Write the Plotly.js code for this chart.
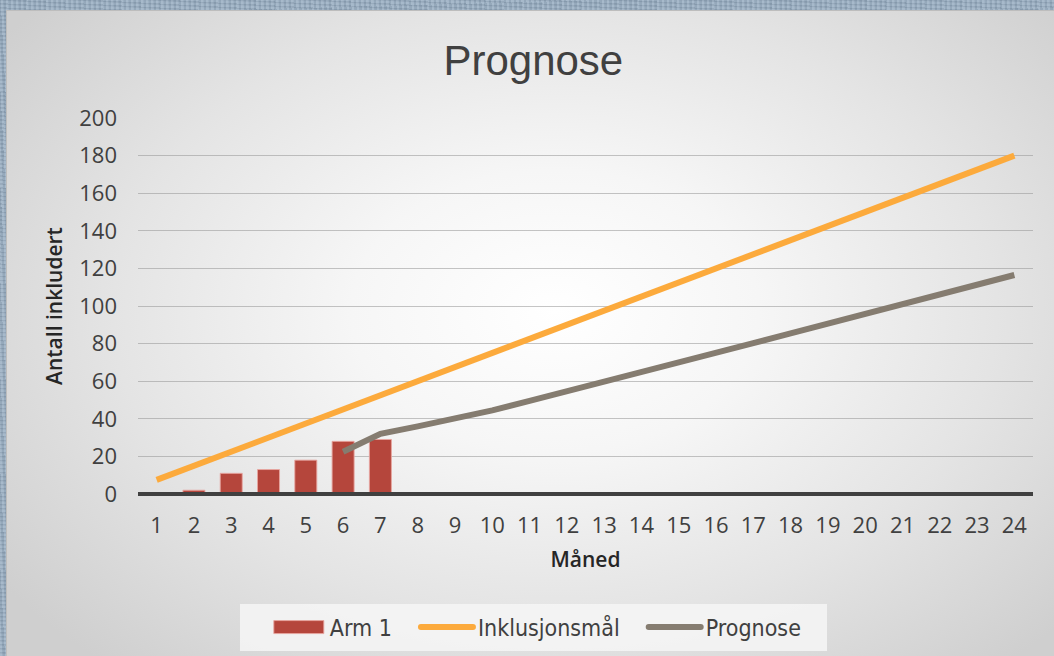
<!DOCTYPE html>
<html>
<head>
<meta charset="utf-8">
<script src="https://cdn.plot.ly/plotly-3.0.1.min.js"></script>
<style>
  html, body { margin: 0; padding: 0; width: 1054px; height: 656px; overflow: hidden; }
  body {
    background-color: #95abc0;
    background-image:
      repeating-linear-gradient(87deg, rgba(255,255,255,0.10) 0px, rgba(255,255,255,0.10) 2px, rgba(0,0,0,0.05) 3px, rgba(0,0,0,0.05) 5px),
      repeating-linear-gradient(3deg, rgba(255,255,255,0.08) 0px, rgba(255,255,255,0.08) 2px, rgba(0,0,0,0.06) 3px, rgba(0,0,0,0.06) 4px);
    position: relative;
  }
  #panel {
    position: absolute; left: 6px; top: 10px; width: 1060px; height: 660px;
    border-top: 1px solid #bdbdbd; border-left: 1px solid #bdbdbd;
    background: radial-gradient(ellipse 680px 470px at 548px 300px, #ffffff 0%, #f6f6f6 30%, #e4e4e4 65%, #cfcfcf 100%);
  }
  #chart { position: absolute; left: 0; top: 0; width: 1054px; height: 656px; }
</style>
</head>
<body>
<div id="panel"></div>
<div id="chart"></div>
<script>
// ---- data ----
const months = [1,2,3,4,5,6,7,8,9,10,11,12,13,14,15,16,17,18,19,20,21,22,23,24];
const tickLabels = ["1","2","3","4","5","6","7","8","9","10","11","12","13","14","15","16","17","18","19","20","21","22","23","24"];
const arm1Months = [1,2,3,4,5,6,7];
const arm1Values = [0, 2, 11, 13, 18, 28, 29];
const inklusjonsmal = [7.5,15,22.5,30,37.5,45,52.5,60,67.5,75,82.5,90,97.5,105,112.5,120,127.5,135,142.5,150,157.5,165,172.5,180];
const prognoseMonths = [6,7,8,9,10,11,12,13,14,15,16,17,18,19,20,21,22,23,24];
const prognoseValues = [22.5,32,36,40,44.5,49.5,54.5,59.5,64.5,69.8,75,80.2,85.4,90.6,95.8,101,106.1,111.3,116.5];
const yTicks = [0,20,40,60,80,100,120,140,160,180,200];

const textColor = '#404040';
const tickFont = {family: 'Open Sans, Roboto, sans-serif', size: 22, color: textColor};
const axisTitleFont = {family: 'Open Sans, Roboto, sans-serif', size: 21, weight: 600, color: '#262626'};

const traces = [
  {
    type: 'bar', name: 'Arm 1', x: arm1Months, y: arm1Values,
    marker: {color: 'rgb(181,70,60)', line: {color: 'rgba(232,165,160,0.9)', width: 1}},
    hoverinfo: 'x+y'
  },
  {
    type: 'scatter', mode: 'lines', name: 'Inklusjonsmål', x: months, y: inklusjonsmal,
    line: {color: 'rgb(252,170,60)', width: 6}
  },
  {
    type: 'scatter', mode: 'lines', name: 'Prognose', x: prognoseMonths, y: prognoseValues,
    line: {color: 'rgb(133,124,112)', width: 6}
  }
];

const layout = {
  width: 1054, height: 656,
  paper_bgcolor: 'rgba(0,0,0,0)', plot_bgcolor: 'rgba(0,0,0,0)',
  margin: {l: 138, r: 21, t: 118, b: 162},
  showlegend: true,
  bargap: 0.41,
  title: {
    text: 'Prognose', x: 0.506, xanchor: 'center', y: 0.908, yanchor: 'middle',
    font: {family: 'Liberation Sans, Arial, sans-serif', size: 42, color: textColor}
  },
  xaxis: {
    range: [0.5, 24.5], tickmode: 'array', tickvals: months, ticktext: tickLabels,
    showgrid: false, zeroline: false, showline: false,
    tickfont: tickFont, ticks: '', ticklabelstandoff: 16,
    title: {text: 'Måned', standoff: 14, font: axisTitleFont},
    automargin: false, fixedrange: true
  },
  yaxis: {
    range: [0, 200], tickmode: 'array', tickvals: yTicks,
    showgrid: true, gridcolor: 'rgba(150,150,150,0.55)', gridwidth: 1,
    zeroline: false, showline: false,
    tickfont: tickFont, ticks: '', ticklabelstandoff: 20,
    title: {text: 'Antall inkludert', standoff: 10, font: axisTitleFont},
    automargin: false, fixedrange: true
  },
  shapes: [
    // baseline at y = 0 (bottom of the plot area), paper-referenced so it is not clipped
    {type: 'line', xref: 'paper', yref: 'paper', x0: 0, x1: 1, y0: 0, y1: 0,
     line: {color: '#404040', width: 4}, layer: 'above'}
  ],
  legend: {
    orientation: 'h', xref: 'container', yref: 'container',
    x: 0.506, xanchor: 'center', y: 0.044, yanchor: 'middle',
    bgcolor: 'rgba(246,246,246,0.85)',
    itemwidth: 52,
    font: {family: 'DejaVu Sans Condensed, Liberation Sans Narrow, sans-serif', size: 23, color: textColor},
    traceorder: 'normal'
  }
};

function parseTranslate(s) {
  const m = /translate\(\s*([-\d.e]+)[ ,]+([-\d.e]+)\s*\)/.exec(s || '');
  return m ? [parseFloat(m[1]), parseFloat(m[2])] : [0, 0];
}

Plotly.newPlot('chart', traces, layout, {displayModeBar: false, staticPlot: true}).then(function (gd) {
  const leg = gd.querySelector('g.legend');
  if (!leg) return;
  // wide rectangular key for the bar series, as in the original
  leg.querySelectorAll('g.traces').forEach(function (t) {
    const txt = t.querySelector('.legendtext');
    if (txt && txt.textContent === 'Arm 1') {
      t.querySelectorAll('.legendpoints path').forEach(function (p) {
        p.setAttribute('d', 'M-25,-6.5h50v13h-50Z');
      });
    }
    t.querySelectorAll('.legendlines path').forEach(function (p) {
      p.style.strokeLinecap = 'round';
    });
  });
  // extra spacing between entries and padding in the box
  const leftPad = 28, gap = 19, rightPad = 20;
  const items = leg.querySelectorAll('g.traces');
  items.forEach(function (t, i) {
    const [a, b] = parseTranslate(t.getAttribute('transform'));
    t.setAttribute('transform', 'translate(' + (a + leftPad + i * gap) + ',' + b + ')');
  });
  const extra = leftPad + (items.length - 1) * gap + rightPad;
  const bg = leg.querySelector('rect.bg');
  if (bg) {
    bg.setAttribute('width', parseFloat(bg.getAttribute('width')) + extra);
    bg.setAttribute('height', parseFloat(bg.getAttribute('height')) + 4);
    bg.setAttribute('y', parseFloat(bg.getAttribute('y') || 0) - 2);
  }
  const sb = leg.querySelector('.scrollbox');
  if (sb) sb.removeAttribute('clip-path');
  const [lx, ly] = parseTranslate(leg.getAttribute('transform'));
  leg.setAttribute('transform', 'translate(' + (lx - extra / 2) + ',' + ly + ')');
});
</script>
</body>
</html>
